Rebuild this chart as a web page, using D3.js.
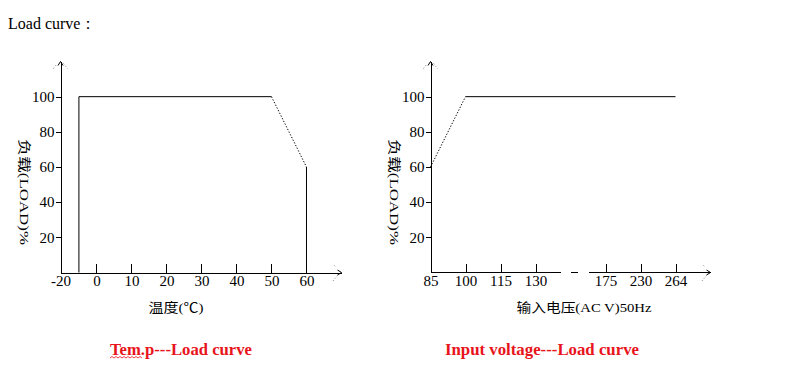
<!DOCTYPE html>
<html><head><meta charset="utf-8">
<script src="https://cdn.jsdelivr.net/npm/d3@7"></script>
<style>body{margin:0;background:#fff}svg{display:block}</style>
</head><body><svg id="c" width="789" height="380"></svg>
<script>
// ---------- data ----------
const yTicks = [20, 40, 60, 80, 100];
const tempTicks = [-20, 0, 10, 20, 30, 40, 50, 60];
const tempFull = [{t: -5, v: 0}, {t: -5, v: 100}, {t: 50, v: 100}];
const tempDerate = [{t: 50, v: 100}, {t: 60, v: 60}];
const tempDrop = [{t: 60, v: 60}, {t: 60, v: 0}];
const voltTicks = [85, 100, 115, 130, 175, 230, 264];
const voltDerate = [{u: 85, v: 60}, {u: 100, v: 100}];
const voltFull = [{u: 100, v: 100}, {u: 264, v: 100}];
const texts = {
  head: "Load curve：",
  yLabel: "负载(LOAD)%",
  tempX: "温度(℃)",
  voltX: "输入电压(AC V)50Hz",
  tempTitle: "Tem.p---Load curve",
  voltTitle: "Input voltage---Load curve"
};

// ---------- drawing ----------
const svg = d3.select("#c");
const serif = "'Liberation Serif','Times New Roman',serif";
const cjk = "'Liberation Serif','Noto Sans CJK SC',serif";
const red = "#e8141c";
const fmt = d => String(d);

svg.append("text").attr("x", 8).attr("y", 29)
  .attr("font-family", serif).attr("font-size", 16).text(texts.head);

const y = d3.scaleLinear().domain([0, 120]).range([272.5, 61.5]);

function styleAxis(g) {
  g.attr("font-family", serif).attr("font-size", 15);
  g.selectAll("line,path").attr("stroke", "#000").attr("shape-rendering", "crispEdges");
  g.selectAll("text").attr("fill", "#000");
}
function arrowUp(x, yt) {
  svg.append("path").attr("d", `M${x-2.5},${yt+4}L${x},${yt}L${x+2.5},${yt+4}`)
    .attr("fill", "none").attr("stroke", "#000");
  svg.append("path").attr("d", `M${x-7},${yt+7}L${x-4},${yt+3}M${x+3},${yt+2}L${x+7},${yt+7}`)
    .attr("fill", "none").attr("stroke", "#777").attr("stroke-dasharray", "1,2");
}
function arrowRight(xe, yy) {
  svg.append("path").attr("d", `M${xe-4},${yy-2.5}L${xe},${yy}L${xe-4},${yy+2.5}`)
    .attr("fill", "none").attr("stroke", "#000");
  svg.append("path").attr("d", `M${xe-7},${yy-7}L${xe-5},${yy-5}M${xe-4},${yy+3}L${xe-9},${yy+9}`)
    .attr("fill", "none").attr("stroke", "#777").attr("stroke-dasharray", "1,2");
}
function yAxis(x0, labelX) {
  const g = svg.append("g").attr("transform", `translate(${x0},0)`)
    .call(d3.axisLeft(y).tickValues(yTicks).tickFormat(fmt).tickSize(5).tickPadding(1).tickSizeOuter(0));
  styleAxis(g);
  arrowUp(x0, y.range()[1]);
  svg.append("text")
    .attr("transform", `translate(${labelX},${192}) rotate(90)`)
    .attr("text-anchor", "middle").attr("dominant-baseline", "central")
    .attr("font-family", cjk).attr("font-size", 13)
    .attr("textLength", 106).attr("lengthAdjust", "spacingAndGlyphs")
    .text(texts.yLabel);
}
function path(data, xf, dotted) {
  svg.append("path").datum(data)
    .attr("d", d3.line().x(xf).y(d => y(d.v)))
    .attr("fill", "none").attr("stroke", "#000").attr("stroke-width", 1)
    .attr("stroke-dasharray", dotted ? "1.3,1.7" : null);
}
function title(txt, cx, len) {
  svg.append("text").attr("x", cx).attr("y", 355).attr("text-anchor", "middle")
    .attr("font-family", serif).attr("font-weight", "bold").attr("font-size", 16.5)
    .attr("fill", red).attr("textLength", len).attr("lengthAdjust", "spacingAndGlyphs")
    .text(txt);
}
function xLabel(txt, cx, len) {
  svg.append("text").attr("x", cx).attr("y", 312).attr("text-anchor", "middle")
    .attr("font-family", cjk).attr("font-size", 13)
    .attr("textLength", len).attr("lengthAdjust", "spacingAndGlyphs").text(txt);
}

// ---- left chart: temperature ----
const xT = d3.scaleLinear().domain([-20, -10.26, 70]).range([60.5, 60.5, 341.5]);
yAxis(60.5, 24);
const gx1 = svg.append("g").attr("transform", `translate(0,${y(0)})`)
  .call(d3.axisBottom(xT).tickValues(tempTicks).tickFormat(fmt).tickSizeInner(-9).tickSizeOuter(0).tickPadding(3));
styleAxis(gx1);
gx1.selectAll(".tick").filter(d => d === tempTicks[0]).select("line").remove();
arrowRight(xT.range()[2], y(0));
path(tempFull, d => xT(d.t), false);
path(tempDerate, d => xT(d.t), true);
path(tempDrop, d => xT(d.t), false);
xLabel(texts.tempX, 176, 55);
title(texts.tempTitle, 181, 142);
// spell-check squiggle under "Tem"
(function () {
  let d = "M110,358";
  for (let x = 110, k = 0; x < 142; x += 2, k++) d += `L${x + 2},${k % 2 ? 358 : 356.5}`;
  svg.append("path").attr("d", d).attr("fill", "none").attr("stroke", red).attr("stroke-width", 0.8);
})();

// ---- right chart: input voltage ----
const slot = [0, 1, 2, 3, 5, 6, 7];
const idx = d3.scaleLinear().domain([0, 8]).range([430.5, 710.5]);
const xV = d3.scaleLinear().domain(voltTicks).range(slot.map(idx));
yAxis(430.5, 394);
const gx2 = svg.append("g").attr("transform", `translate(0,${y(0)})`)
  .call(d3.axisBottom(xV).tickValues(voltTicks).tickFormat(fmt).tickSizeInner(-9).tickSizeOuter(0).tickPadding(3));
styleAxis(gx2);
gx2.select(".domain").remove();
gx2.selectAll(".tick").filter(d => d === voltTicks[0]).select("line").remove();
[[0, 3.74], [4.0, 4.21], [4.54, 8]].forEach(([a, b]) => {
  svg.append("line").attr("x1", idx(a)).attr("x2", idx(b))
    .attr("y1", y(0)).attr("y2", y(0)).attr("stroke", "#000").attr("shape-rendering", "crispEdges");
});
arrowRight(idx(8), y(0));
path(voltDerate, d => xV(d.u), true);
path(voltFull, d => xV(d.u), false);
xLabel(texts.voltX, 584, 135);
title(texts.voltTitle, 542, 194);
</script></body></html>
